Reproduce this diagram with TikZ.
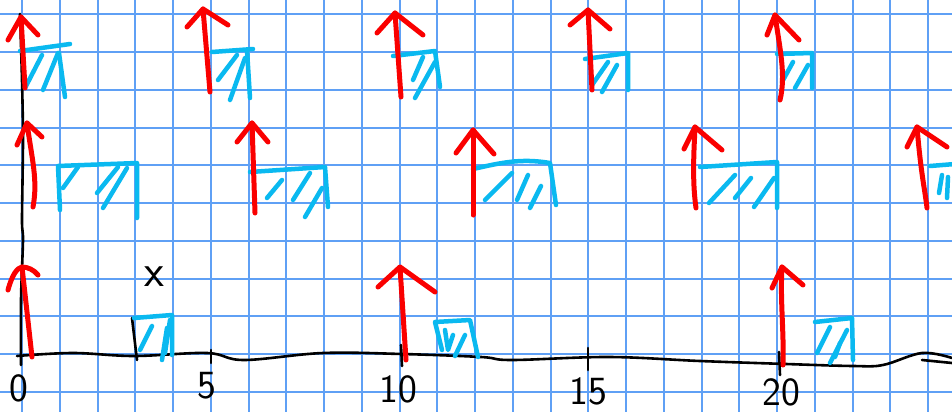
\documentclass[tikz,border=0pt]{standalone}
\usepackage{fontspec}
\definecolor{gridblue}{RGB}{95,160,245}
\definecolor{boxblue}{RGB}{10,185,240}
\definecolor{penred}{RGB}{250,0,0}
\begin{document}
\begin{tikzpicture}[x=1pt,y=-1pt,
  gridline/.style={gridblue,line width=2pt},
  pen/.style={black,line width=2.6pt,line cap=round,line join=round},
  redarr/.style={penred,line width=5pt,line cap=round,line join=round},
  bluebox/.style={boxblue,line width=4.5pt,line cap=round,line join=round},
  lbl/.style={font=\fontsize{40}{40}\selectfont\sffamily,inner sep=0pt}]
\fill[white] (0,0) rectangle (952,412);
\useasboundingbox (0,0) rectangle (952,412);
% grid paper
\foreach \k in {0,...,24} \draw[gridline] ({22+37.75*\k},0) -- ({22+37.75*\k},412);
\foreach \k in {0,...,10} \draw[gridline] (0,{14.25+37.75*\k}) -- (952,{14.25+37.75*\k});
% axes
\draw[pen] plot[smooth,tension=0.6] coordinates {(17,356) (73,353) (134,356) (207,353) (244,360) (323,353) (402,354) (481,357) (512,360) (609,357) (700,361) (786,364) (853,366) (883,365) (922,353) (952,358)};
\draw[pen] (922,360) -- (952,363);
\draw[pen] plot[smooth] coordinates {(20,14) (22,80) (23,140) (22,220) (23,240) (21,300) (21,365)};
\draw[pen] (211,350) -- (211,363);
\draw[pen] (401,345) -- (402,366);
\draw[pen] (588,348) -- (588,370);
\draw[pen] (779,352) -- (780,375);
\draw[pen] (132,318) -- (137,360);
% labels
\node[lbl] (l0) at (19,388) {0};
\node[lbl] (l5) at (207,386) {5};
\node[lbl] (l10) at (398,389) {10};
\node[lbl] (l15) at (588,391) {15};
\node[lbl] (l20) at (781,392) {20};
\node[font=\fontsize{46}{46}\selectfont\sffamily,inner sep=0pt] (xmark) at (154,277) {x};
% ---------- blue execution boxes ----------
% top row
\draw[bluebox] (20,51) -- (70,44);
\draw[bluebox] (59,53) -- (65,97);
\draw[bluebox] (25,88) -- (42,55);
\draw[bluebox] (43,90) -- (58,53);
\draw[bluebox] (212,52) -- (253,49);
\draw[bluebox] (247,50) -- (250,98);
\draw[bluebox] (218,80) -- (237,55);
\draw[bluebox] (230,100) -- (245,58);
\draw[bluebox] (393,56) -- (435,51) -- (440,87);
\draw[bluebox] (413,80) -- (423,57);
\draw[bluebox] (415,98) -- (435,62);
\draw[bluebox] (585,59) -- (628,53) -- (628,90);
\draw[bluebox] (592,85) -- (608,62);
\draw[bluebox] (602,92) -- (617,65);
\draw[bluebox] (777,54) -- (812,53) -- (812,88);
\draw[bluebox] (782,82) -- (793,62);
\draw[bluebox] (795,88) -- (808,65);
% middle row
\draw[bluebox] (60,210) -- (58,166) -- (137,163) -- (137,218);
\draw[bluebox] (63,188) -- (78,167);
\draw[bluebox] (97,193) -- (118,167);
\draw[bluebox] (103,208) -- (127,168);
\draw[bluebox] (250,172) -- (325,167) -- (328,207);
\draw[bluebox] (267,198) -- (282,180);
\draw[bluebox] (293,200) -- (310,173);
\draw[bluebox] (305,217) -- (322,188);
\draw[bluebox] (473,169) .. controls (500,163) and (520,158) .. (550,163) -- (556,205);
\draw[bluebox] (485,200) -- (512,173);
\draw[bluebox] (517,200) -- (528,175);
\draw[bluebox] (530,208) -- (541,186);
\draw[bluebox] (700,167) -- (777,162) -- (777,208);
\draw[bluebox] (709,203) -- (735,175);
\draw[bluebox] (735,198) -- (751,178);
\draw[bluebox] (754,207) -- (774,178);
\draw[bluebox] (930,166) -- (955,164);
\draw[bluebox] (939,193) -- (942,175);
\draw[bluebox] (947,198) -- (948,177);
% bottom row
\draw[bluebox] (134,318) -- (172,315) -- (172,355);
\draw[bluebox] (140,350) -- (152,326);
\draw[bluebox] (162,360) -- (167,328);
\draw[bluebox] (165,353) -- (170,320);
\draw[bluebox] (442,350) -- (435,322) -- (470,320) -- (478,357);
\draw[bluebox] (445,330) -- (448,350) -- (453,335);
\draw[bluebox] (455,356) -- (465,335);
\draw[bluebox] (815,322) -- (852,318) -- (853,360);
\draw[bluebox] (817,353) -- (830,327);
\draw[bluebox] (830,363) -- (847,330);
\draw[bluebox] (835,357) -- (840,343);
% ---------- red release arrows ----------
% top row (period 5)
\draw[redarr] (25,88) -- (21,17);
\draw[redarr] (8,40) -- (21,17) -- (38,35);
\draw[redarr] (210,92) -- (203,9);
\draw[redarr] (187,27) -- (203,9) -- (228,25);
\draw[redarr] (401,97) -- (395,13);
\draw[redarr] (377,33) -- (395,13) -- (423,35);
\draw[redarr] (592,90) -- (588,10);
\draw[redarr] (570,25) -- (588,10) -- (610,29);
\draw[redarr] (780,100) .. controls (786,75) and (780,50) .. (775,15);
\draw[redarr] (767,35) -- (775,15) -- (799,40);
% middle row (period 6)
\draw[redarr] (33,207) .. controls (38,180) and (32,160) .. (27,123);
\draw[redarr] (17,145) -- (27,123) -- (42,137);
\draw[redarr] (255,213) -- (252,123);
\draw[redarr] (237,142) -- (252,123) -- (268,142);
\draw[redarr] (473,215) -- (473,130);
\draw[redarr] (456,153) -- (473,130) -- (494,154);
\draw[redarr] (696,208) .. controls (692,180) and (694,150) .. (695,127);
\draw[redarr] (684,149) -- (695,127) -- (722,150);
\draw[redarr] (927,208) .. controls (925,190) and (921,175) .. (917,127);
\draw[redarr] (907,147) -- (917,127) -- (947,147);
% bottom row (period 10)
\draw[redarr] (32,357) -- (22,267);
\draw[redarr] (8,290) .. controls (12,275) and (17,268) .. (22,267) .. controls (28,267) and (34,270) .. (38,275);
\draw[redarr] (406,360) -- (400,267);
\draw[redarr] (378,287) -- (400,267) -- (435,292);
\draw[redarr] (783,365) .. controls (784,330) and (780,300) .. (782,267);
\draw[redarr] (772,288) -- (782,267) -- (803,285);
\end{tikzpicture}
\end{document}
